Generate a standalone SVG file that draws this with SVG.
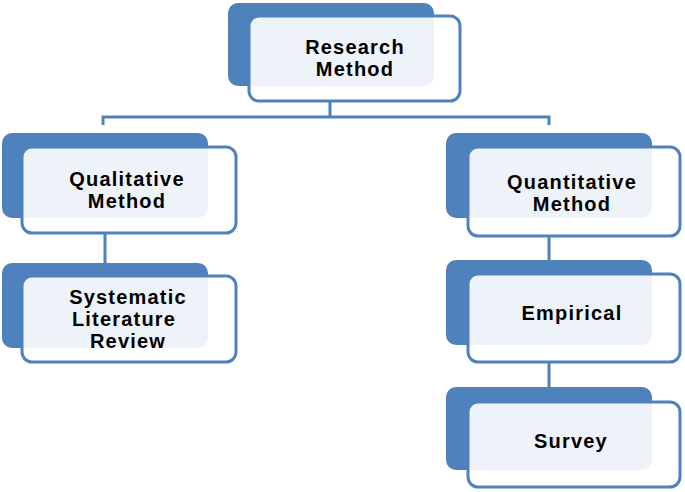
<svg xmlns="http://www.w3.org/2000/svg" width="685" height="492" viewBox="0 0 685 492">
<style>
.b{fill:#4f81bd}
.f{fill:#fff;fill-opacity:0.9;stroke:#4f81bd;stroke-width:3}
.t{font-family:"Liberation Sans",Arial,sans-serif;font-weight:bold;font-size:20px;letter-spacing:1.2px;fill:#000;text-anchor:middle}
.c{fill:none;stroke:#4f81bd;stroke-width:3}
</style>
<rect width="685" height="492" fill="#fff"/>
<g id="connectors">
<path class="c" d="M330 101V117M103 125V117H549V125"/>
<path class="c" d="M105 233V276"/>
<path class="c" d="M549 236V274M549 362V402"/>
</g>
<g id="research"><rect class="b" x="228" y="3" width="206" height="83" rx="10"/><rect class="f" x="249" y="16" width="211" height="85" rx="10"/><text class="t" x="355" y="54">Research</text><text class="t" x="355" y="76">Method</text></g>
<g id="qualitative"><rect class="b" x="2" y="133" width="206" height="85" rx="10"/><rect class="f" x="22" y="147" width="214" height="86" rx="10"/><text class="t" x="127" y="186">Qualitative</text><text class="t" x="127" y="208">Method</text></g>
<g id="quantitative"><rect class="b" x="446" y="133" width="206" height="85" rx="10"/><rect class="f" x="468" y="147" width="212" height="89" rx="10"/><text class="t" x="572" y="189">Quantitative</text><text class="t" x="572" y="211">Method</text></g>
<g id="systematic"><rect class="b" x="2" y="263" width="206" height="85" rx="10"/><rect class="f" x="22" y="276" width="214" height="86" rx="10"/><text class="t" x="128" y="304">Systematic</text><text class="t" x="124" y="326">Literature</text><text class="t" x="128" y="348">Review</text></g>
<g id="empirical"><rect class="b" x="446" y="260" width="206" height="85" rx="10"/><rect class="f" x="468" y="274" width="212" height="88" rx="10"/><text class="t" x="572" y="320">Empirical</text></g>
<g id="survey"><rect class="b" x="446" y="387" width="206" height="83" rx="10"/><rect class="f" x="468" y="402" width="212" height="85" rx="10"/><text class="t" x="571" y="448">Survey</text></g>
</svg>
